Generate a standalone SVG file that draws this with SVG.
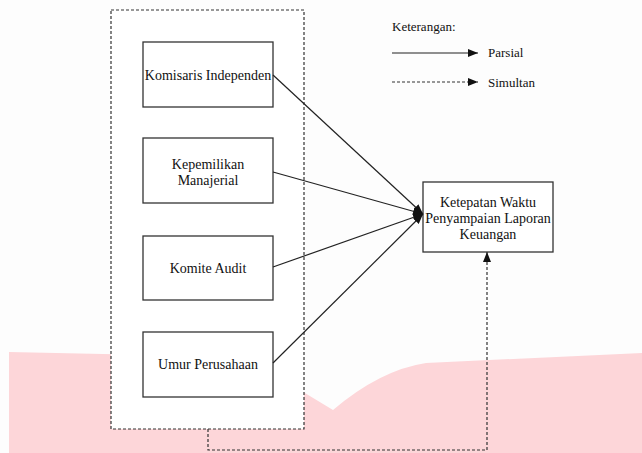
<svg xmlns="http://www.w3.org/2000/svg" width="642" height="453" viewBox="0 0 642 453">
<defs>
<style>
.box{fill:#fff;stroke:#333;stroke-width:1.3}
.t{font-family:"Liberation Serif","Times New Roman",serif;font-size:14px;fill:#111;text-anchor:middle}
.lg{font-family:"Liberation Serif","Times New Roman",serif;font-size:13px;fill:#111}
.ln{fill:none;stroke:#222;stroke-width:1.2}
.dash{fill:none;stroke:#333;stroke-width:1.2;stroke-dasharray:3 2}
</style>
<marker id="ah" viewBox="0 0 10 8" refX="10" refY="4" markerWidth="10" markerHeight="8" markerUnits="userSpaceOnUse" orient="auto">
<path d="M0,0 L10,4 L0,8 Z" fill="#111"/>
</marker>
</defs>
<rect width="642" height="453" fill="#fdfdfd"/>
<path d="M9,352 L290,358 L290,384 L333,410 Q380,370 426,363 L642,353 L642,453 L9,453 Z" fill="#fdd6d9"/>
<g id="group-outer">
<rect x="111" y="10" width="193" height="419" class="dash" style="fill:#fff"/>
</g>
<g id="node-komisaris">
<rect x="143" y="42" width="130" height="65" class="box"/>
<text x="208" y="80" class="t">Komisaris Independen</text>
</g>
<g id="node-kepemilikan">
<rect x="143" y="138" width="130" height="65" class="box"/>
<text x="208" y="169" class="t">Kepemilikan</text>
<text x="208" y="185" class="t">Manajerial</text>
</g>
<g id="node-komite">
<rect x="143" y="236" width="130" height="64" class="box"/>
<text x="208" y="273" class="t">Komite Audit</text>
</g>
<g id="node-umur">
<rect x="143" y="332" width="130" height="65" class="box"/>
<text x="208" y="369" class="t">Umur Perusahaan</text>
</g>
<g id="node-ketepatan">
<rect x="423" y="182" width="130" height="70" class="box"/>
<text x="488" y="207" class="t">Ketepatan Waktu</text>
<text x="488" y="223" class="t">Penyampaian Laporan</text>
<text x="488" y="239" class="t">Keuangan</text>
</g>
<g id="connectors">
<line x1="273" y1="75" x2="423" y2="214" class="ln" marker-end="url(#ah)"/>
<line x1="273" y1="172" x2="423" y2="214" class="ln" marker-end="url(#ah)"/>
<line x1="273" y1="267" x2="423" y2="214" class="ln" marker-end="url(#ah)"/>
<line x1="273" y1="363" x2="423" y2="214" class="ln" marker-end="url(#ah)"/>
<path d="M208,429 L208,450 L487,450 L487,252" class="dash" marker-end="url(#ah)"/>
</g>
<g id="legend">
<text x="392" y="31" class="lg">Keterangan:</text>
<line x1="392" y1="53" x2="478" y2="53" class="ln" marker-end="url(#ah)"/>
<text x="488" y="57" class="lg">Parsial</text>
<line x1="392" y1="82" x2="478" y2="82" class="dash" marker-end="url(#ah)"/>
<text x="488" y="87" class="lg">Simultan</text>
</g>
</svg>
